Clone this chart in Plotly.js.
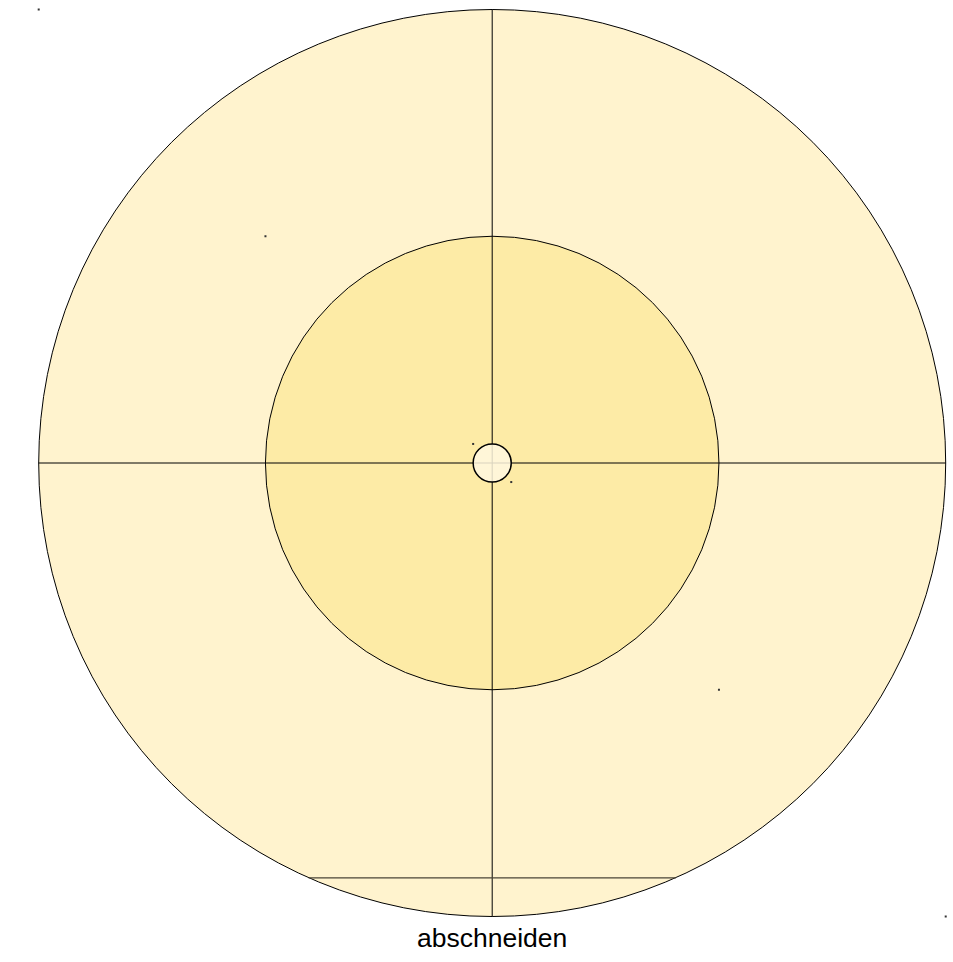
<!DOCTYPE html>
<html>
<head>
<meta charset="utf-8">
<script src="https://cdn.plot.ly/plotly-3.0.1.min.js"></script>
<style>html,body{margin:0;padding:0;background:#fff;}#chart{width:953px;height:962px;}</style>
</head>
<body>
<div id="chart"></div>
<script>
// Target rings (radius in arbitrary units, centre at 0,0)
const ringNames = ["outer", "inner", "bull"];
const ringRadii = [10, 5, 0.42];
const ringFills = ["rgba(255,243,206,1)", "rgba(253,235,166,1)", "rgba(255,248,225,0.85)"];
// Cut line ("abschneiden"): height and half-length
const cutY = [-9.15];
const cutHalf = [4.05];
const labelText = ["abschneiden"];

const pxPerUnit = 45.35;
const cx = 492.2, cy = 463;
const W = 953, H = 962;
const xr = [-cx / pxPerUnit, (W - cx) / pxPerUnit];
const yr = [-(H - cy) / pxPerUnit, cy / pxPerUnit];

const shapes = [];
for (let i = 0; i < 2; i++) {
  const r = ringRadii[i];
  shapes.push({type: "circle", xref: "x", yref: "y", x0: -r, y0: -r, x1: r, y1: r,
    fillcolor: ringFills[i], line: {color: "#000", width: 1}, layer: "below"});
}
const R = ringRadii[0];
shapes.push({type: "line", xref: "x", yref: "y", x0: -R, x1: R, y0: 0, y1: 0, line: {color: "#000", width: 1}, layer: "below"});
shapes.push({type: "line", xref: "x", yref: "y", x0: 0, x1: 0, y0: -R, y1: R, line: {color: "#000", width: 1}, layer: "below"});
shapes.push({type: "line", xref: "x", yref: "y", x0: -cutHalf[0], x1: cutHalf[0], y0: cutY[0], y1: cutY[0], line: {color: "#4a4436", width: 1.2}, layer: "below"});
const rb = ringRadii[2];
shapes.push({type: "circle", xref: "x", yref: "y", x0: -rb, y0: -rb, x1: rb, y1: rb,
  fillcolor: ringFills[2], line: {color: "#000", width: 1.5}, layer: "above"});

const cornerX = [], cornerY = [];
ringRadii.forEach(r => { cornerX.push(-r, r); cornerY.push(r, -r); });

const traces = [{
  type: "scatter", mode: "markers", x: cornerX, y: cornerY,
  marker: {size: 2, color: "#333", symbol: "square"}, hoverinfo: "skip", showlegend: false
}];

const layout = {
  width: W, height: H,
  margin: {l: 0, r: 0, t: 0, b: 0},
  paper_bgcolor: "#fff", plot_bgcolor: "#fff",
  xaxis: {range: xr, visible: false, showgrid: false, zeroline: false, fixedrange: true},
  yaxis: {range: yr, visible: false, showgrid: false, zeroline: false, fixedrange: true},
  shapes: shapes,
  annotations: [{
    x: 0, y: -(938 - cy) / pxPerUnit, xref: "x", yref: "y", text: labelText[0], showarrow: false,
    font: {family: "Liberation Sans, Arial, sans-serif", size: 26.5, color: "#000"}
  }],
  showlegend: false
};

Plotly.newPlot("chart", traces, layout, {displayModeBar: false, staticPlot: true});
</script>
</body>
</html>
